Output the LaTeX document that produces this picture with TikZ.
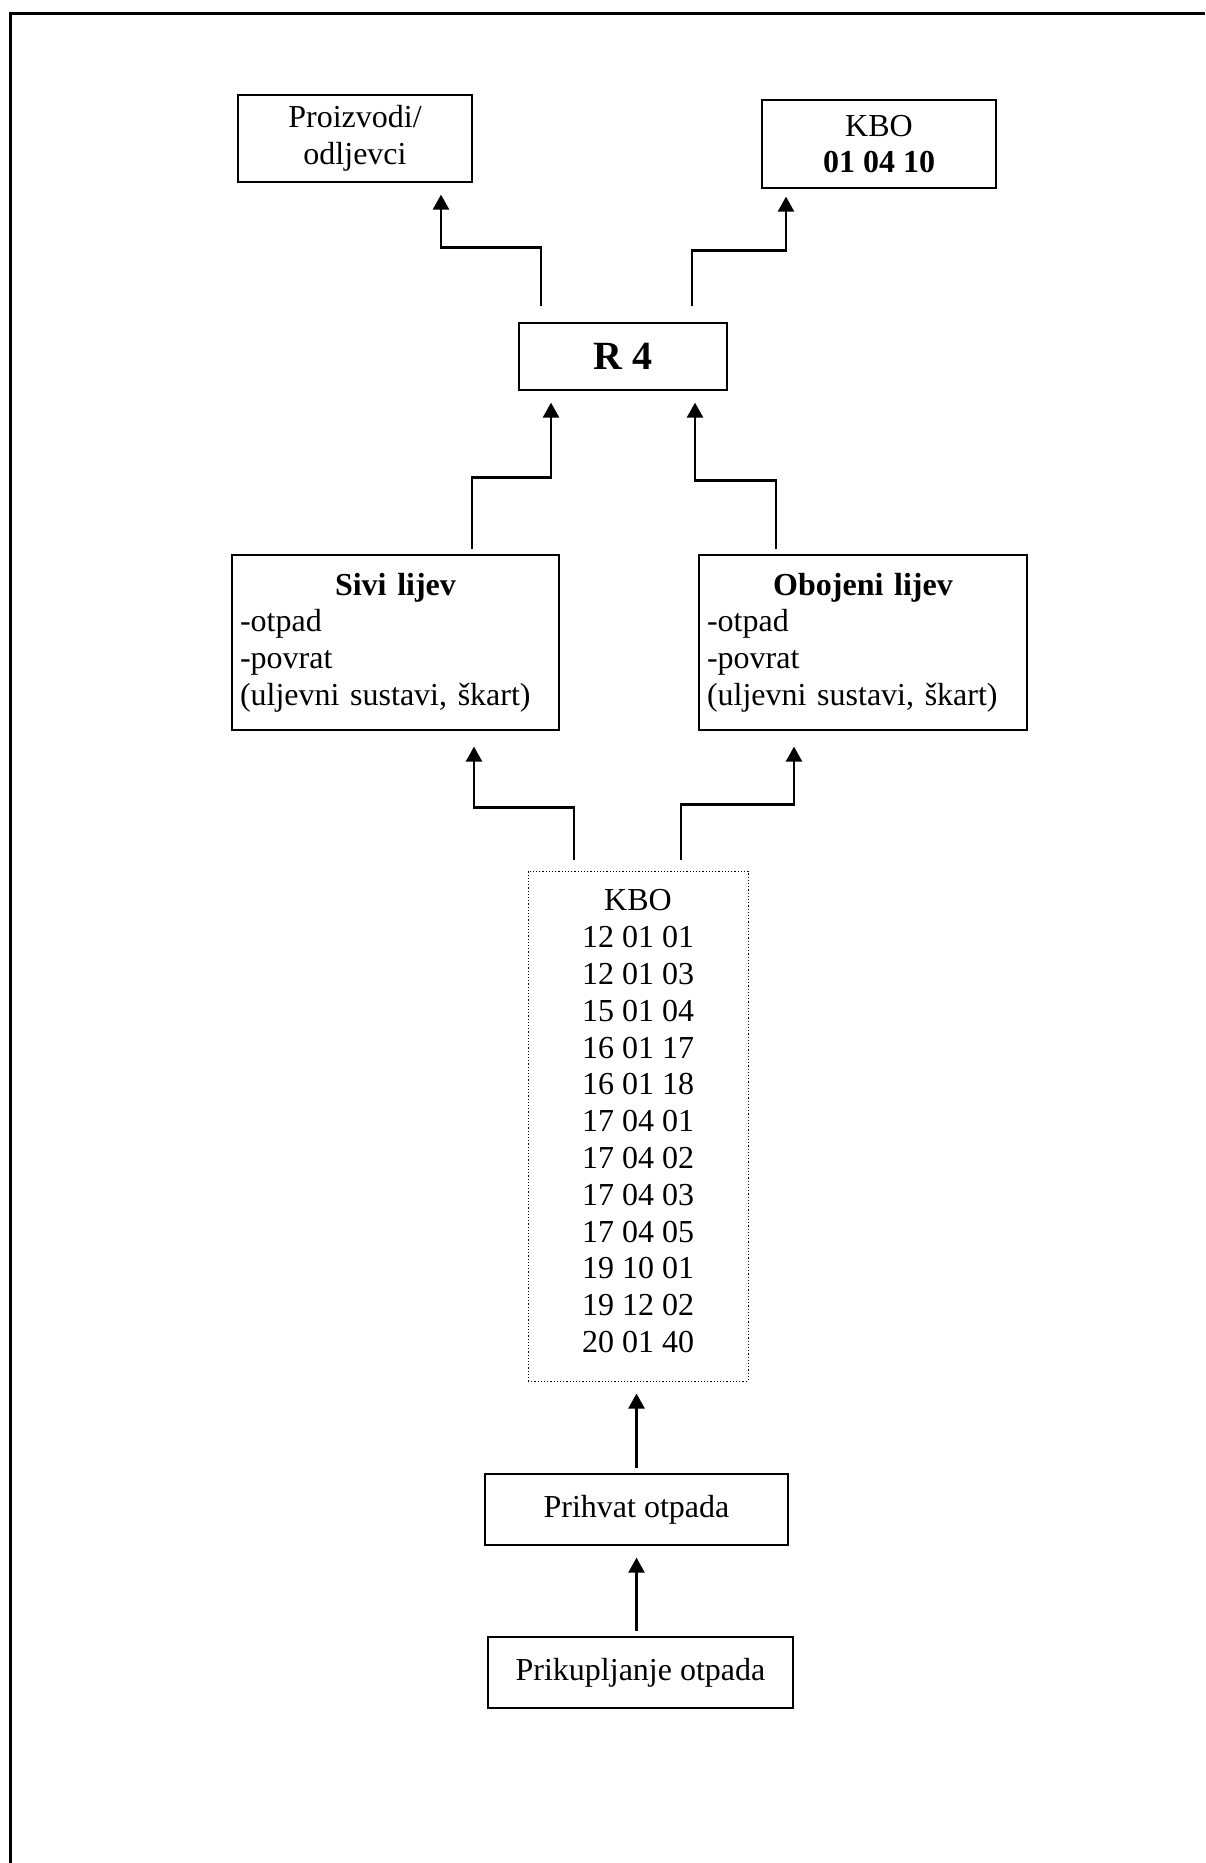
\documentclass[tikz,border=0pt]{standalone}
\usepackage{fontspec}
\setmainfont{Liberation Serif}
\usetikzlibrary{calc,arrows.meta}
\tikzset{
  wastebox/.style={draw,line width=0.6pt,align=center,inner sep=0pt,font=\fontsize{16}{18.4}\selectfont},
  flow/.style={line width=1.2pt,-{Triangle[width=8pt,length=7.5pt]}},
}

\begin{document}
\begin{tikzpicture}[x=0.5pt,y=-0.5pt]
        \useasboundingbox (0,0) rectangle (1205,1863);
        % Page frame
        \draw[line width=1.5pt] (10,1863) -- (10,13) -- (1205,13);

        % Outputs
        \node[wastebox,minimum width=117pt,minimum height=43.5pt] (prod) at (355,138.5) {Proizvodi/\\odljevci};
        \node[wastebox,minimum width=117pt,minimum height=44pt] (kbotop) at (879,144) {KBO\\\textbf{01 04 10}};

        % Recovery
        \node[wastebox,minimum width=104pt,minimum height=33.5pt,font=\fontsize{20}{24}\selectfont\bfseries] (r4) at (623,356.5) {R 4};

        % The two castings
        \node[wastebox,minimum width=163.5pt,minimum height=87.5pt,text width=155.5pt,align=left] (sivi) at (395.5,642.5) {%
          \makebox[\hsize]{\textbf{Sivi lijev}}\\
          -otpad\\
          -povrat\\
          (uljevni sustavi, škart)};
        \node[wastebox,minimum width=164pt,minimum height=87.5pt,text width=156pt,align=left] (obojeni) at (863,642.5) {%
          \makebox[\hsize]{\textbf{Obojeni lijev}}\\
          -otpad\\
          -povrat\\
          (uljevni sustavi, škart)};

        % Waste codes
        \node[wastebox,densely dotted,line width=0.5pt,minimum width=110pt,minimum height=255pt,text depth=5pt] (kbolist) at (638,1126) {%
          KBO\\
          12 01 01\\
          12 01 03\\
          15 01 04\\
          16 01 17\\
          16 01 18\\
          17 04 01\\
          17 04 02\\
          17 04 03\\
          17 04 05\\
          19 10 01\\
          19 12 02\\
          20 01 40};

        % Collection
        \node[wastebox,minimum width=151.5pt,minimum height=35.5pt] (prihvat) at (636.5,1509.5) {Prihvat otpada};
        \node[wastebox,minimum width=152.5pt,minimum height=35.5pt] (prikup) at (640.5,1672.5) {Prikupljanje otpada};

        % Arrows
        \draw[flow] ($(r4.north)+(-82,-16)$) -- ++(0,-59) -| ($(prod.south)+(86,12)$);
        \draw[flow] ($(r4.north)+(69,-16)$) -- ++(0,-56) -| ($(kbotop.south)+(-93,8)$);
        \draw[flow] ($(sivi.north)+(76.5,-5)$) -- ++(0,-72) -| ($(r4.south)+(-72,12)$);
        \draw[flow] ($(obojeni.north)+(-87,-5)$) -- ++(0,-69) -| ($(r4.south)+(72,12)$);
        \draw[flow] ($(kbolist.north)+(-64,-11)$) -- ++(0,-52) -| ($(sivi.south)+(78.5,16)$);
        \draw[flow] ($(kbolist.north)+(43,-11)$) -- ++(0,-55) -| ($(obojeni.south)+(-69,16)$);
        \draw[flow,shorten <=2.5pt,shorten >=6pt] (prihvat.north) -- (prihvat.north |- kbolist.south);
        \draw[flow,shorten <=2.5pt,shorten >=6pt] (prihvat.south |- prikup.north) -- (prihvat.south);
\end{tikzpicture}
\end{document}
